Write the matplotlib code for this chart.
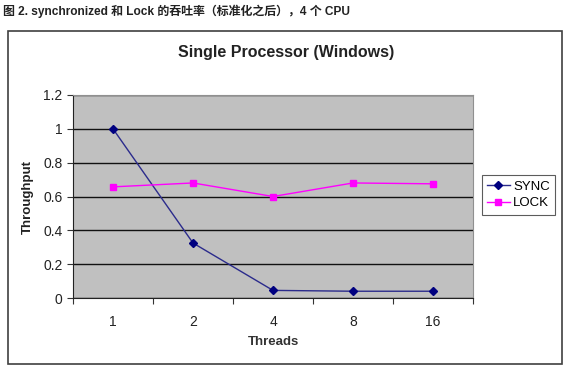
import numpy as np
import matplotlib
matplotlib.use("Agg")
import matplotlib.pyplot as plt
from matplotlib.patches import Rectangle

# 数据
threads = ["1", "2", "4", "8", "16"]
sync_vals = [1.0, 0.325, 0.045, 0.04, 0.04]
lock_vals = [0.657, 0.68, 0.60, 0.68, 0.675]
y_ticks = [0, 0.2, 0.4, 0.6, 0.8, 1, 1.2]
y_labels = ["0", "0.2", "0.4", "0.6", "0.8", "1", "1.2"]

caption = "图 2. synchronized 和 Lock 的吞吐率（标准化之后），4 个 CPU"

W, H = 566, 370
fig = plt.figure(figsize=(W / 100, H / 100), dpi=100)
fig.patch.set_facecolor("white")

# 外框
fig.add_artist(Rectangle((8 / W, 1 - 364 / H), (562 - 8) / W, (364 - 31) / H,
                         transform=fig.transFigure, fill=False,
                         edgecolor="#404040", linewidth=1.2))

# 标题说明
fig.text(3 / W, 1 - 11 / H, caption, fontsize=8.6, fontweight="bold",
         family=["Liberation Sans", "Noto Sans CJK SC"], color="#222222",
         va="center", ha="left")

# 绘图区
ax = fig.add_axes([73 / W, 1 - 298 / H, 400 / W, (298 - 95) / H])
ax.set_facecolor("#C0C0C0")
x = np.arange(len(threads))
ax.plot(x, sync_vals, color="#2B2B8C", marker="D", markersize=4,
        markerfacecolor="#000080", markeredgecolor="#000080",
        linewidth=1, label="SYNC")
ax.plot(x, lock_vals, color="#FF00FF", marker="s", markersize=4.5,
        linewidth=1, label="LOCK")

ax.set_xlim(-0.5, len(threads) - 0.5)
ax.set_ylim(0, 1.2)
ax.set_yticks(y_ticks)
ax.set_yticklabels(y_labels)
ax.set_xticks(np.arange(len(threads) + 1) - 0.5)
ax.set_xticklabels([])
ax.set_xticks(x, minor=True)
ax.set_xticklabels(threads, minor=True)
ax.tick_params(axis="x", which="minor", length=0, pad=12)
ax.tick_params(axis="both", which="major", direction="out", length=4,
               color="#333333")
ax.tick_params(labelsize=10, labelcolor="#222222", which="both")
for lab in ax.get_xticklabels(minor=True) + ax.get_yticklabels():
    lab.set_family("Liberation Sans")
ax.yaxis.grid(True, color="#111111", linewidth=1)
ax.set_axisbelow(True)
for s in ["top", "right"]:
    ax.spines[s].set_color("#909090")
ax.spines["left"].set_color("#222222")
ax.spines["bottom"].set_color("#222222")

ax.set_xlabel("Threads", fontsize=9.5, fontweight="bold", family="Liberation Sans",
              color="#333333", labelpad=5)
ax.set_ylabel("Throughput", fontsize=9.5, fontweight="bold", family="Liberation Sans",
              color="#222222", labelpad=7)

fig.text(286 / W, 1 - 52 / H, "Single Processor (Windows)", fontsize=11.5,
         fontweight="bold", family="Liberation Sans", color="#222222",
         ha="center", va="center")

leg = fig.legend(loc="upper left", bbox_to_anchor=(482 / W, 1 - 175 / H),
                 frameon=True, fancybox=False,
                 prop={"family": "Liberation Sans", "size": 9.5},
                 handlelength=1.7, borderpad=0.4, labelspacing=0.35,
                 handletextpad=0.25, borderaxespad=0, markerscale=1.1)
leg.get_frame().set_edgecolor("#333333")
leg.get_frame().set_linewidth(0.8)

fig.savefig("out.png", dpi=100)
